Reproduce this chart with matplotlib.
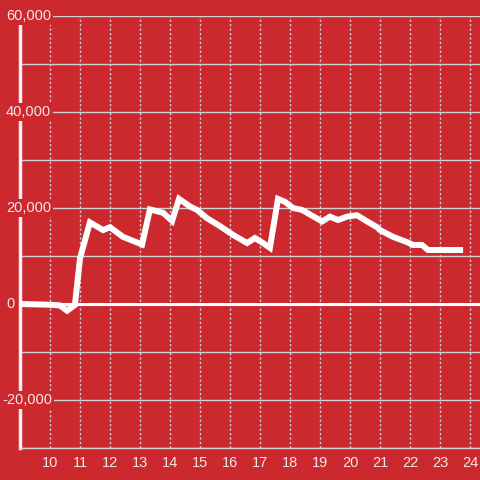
import matplotlib
matplotlib.use("Agg")
import matplotlib.pyplot as plt

hours = [9.0, 10.0, 10.33, 10.57, 10.83, 11.0, 11.33, 11.77, 12.0, 12.43,
         13.07, 13.33, 13.77, 14.07, 14.3, 14.67, 14.9, 15.23, 15.67, 16.1,
         16.57, 16.83, 17.1, 17.33, 17.6, 17.83, 18.1, 18.4, 19.07, 19.33,
         19.6, 19.9, 20.23, 20.57, 20.9, 21.0, 21.43, 21.9, 22.1, 22.4,
         22.6, 23.67]
values = [0, -150, -300, -1400, -200, 9500, 17000, 15400, 16000, 14000,
          12400, 19700, 19000, 17300, 21900, 20300, 19600, 17900, 16200, 14400,
          12700, 13750, 12700, 11700, 21900, 21300, 20000, 19600, 17200, 18200,
          17500, 18200, 18500, 17200, 16000, 15400, 14000, 12900, 12300, 12300,
          11250, 11250]

x_ticks = list(range(10, 25))
y_grid = list(range(-30000, 60001, 10000))
y_labels = [60000, 40000, 20000, 0, -20000]

bg = "#cc292f"
grid_col = "#d0d0d0"
text_col = "#f3e6e6"

plt.rcParams['font.family'] = ['Liberation Sans', 'DejaVu Sans']

fig = plt.figure(figsize=(4.8, 4.8), dpi=100, facecolor=bg)
ax = fig.add_axes([20 / 480, 32 / 480, 460 / 480, 432 / 480])
ax.set_facecolor(bg)

ax.set_xlim(9, 24.333)
ax.set_ylim(-30000, 60000)

for yv in y_grid:
    ax.axhline(yv, color=grid_col, lw=1, zorder=1)
for xv in x_ticks:
    ax.axvline(xv, color=grid_col, lw=1, ls=(0, (1.6, 1.6)), zorder=1)

ax.axhline(0, color="white", lw=2.2, zorder=2)

ax.spines["left"].set_color("#f2f2f2")
ax.spines["left"].set_linewidth(2.5)
ax.spines["left"].set_bounds(-30000, 58300)
ax.spines["left"].set_zorder(2.5)

# y labels sit over the left edge, with a red box hiding grid and spine
for yv in y_labels:
    label = f"{yv:,}"
    xpos = -14 / 460 if yv >= 0 else -18 / 460
    ax.text(xpos, yv, label, transform=ax.get_yaxis_transform(),
            ha="left", va="center", fontsize=10.5, color=text_col, zorder=3,
            bbox=dict(boxstyle="square,pad=0.12", fc=bg, ec="none"))

ax.plot(hours, values, color="white", lw=4.3, solid_joinstyle="miter", zorder=4)

ax.set_xticks(x_ticks)
ax.set_yticks([])
ax.tick_params(axis="x", length=0, pad=6, labelsize=10.5, labelcolor=text_col)

for s in ["top", "right"]:
    ax.spines[s].set_visible(False)
ax.spines["bottom"].set_color(grid_col)
ax.spines["bottom"].set_linewidth(1)

fig.savefig("out.png", dpi=100, facecolor=bg)
